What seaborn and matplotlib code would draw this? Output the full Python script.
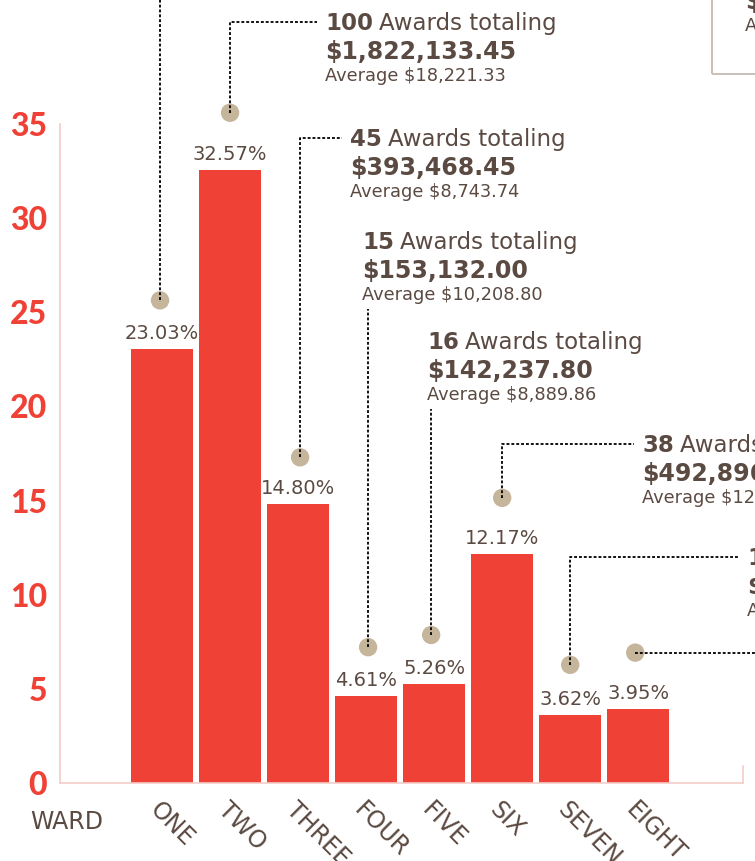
import matplotlib
matplotlib.use("Agg")
import matplotlib.pyplot as plt
import seaborn as sns
import pandas as pd
from matplotlib.transforms import ScaledTranslation, offset_copy
from matplotlib.patches import Rectangle
from matplotlib.lines import Line2D

# ---------------- data ----------------
wards = ["ONE", "TWO", "THREE", "FOUR", "FIVE", "SIX", "SEVEN", "EIGHT"]
share_pct = [23.03, 32.57, 14.80, 4.61, 5.26, 12.17, 3.62, 3.95]
award_counts = ["", "100", "45", "15", "16", "38", "11", ""]
award_totals = ["$1,315,240.10", "$1,822,133.45", "$393,468.45", "$153,132.00",
                "$142,237.80", "$492,896.00", "$103,950.00", ""]
award_avgs = ["$18,789.14", "$18,221.33", "$8,743.74", "$10,208.80",
              "$8,889.86", "$12,970.95", "$9,450.00", ""]
y_ticks = [0, 5, 10, 15, 20, 25, 30, 35]
axis_title = "WARD"

# ---------------- style / layout (pixels) ----------------
W, H = 755, 861
RED = "#ef4136"
BROWN = "#5b4a42"
TAN = "#c5b59b"
PINK = "#f5cdc8"
BOXC = "#c9bfb9"

dot_gap = [49, 57, 47, 49, 49, 56, 50, 56]
dot_dx = [-2, 0, 2, 2, -3, 0, 0, -3]
ann_x = [745, 325, 350, 362, 427, 642, 747, None]
ann_top = [-36, 14, 130, 233, 333, 436, 549, None]
leader = ["up_off", "elbow", "elbow", "up", "up", "elbow", "elbow", "right_off"]

sns.set_style("white")
plt.rcParams["font.family"] = ["DejaVu Sans"]

fig = plt.figure(figsize=(W / 100, H / 100), dpi=100)
ax = fig.add_axes([60 / W, (H - 783) / H, 683 / W, 659 / H])

df = pd.DataFrame({"ward": wards, "pct": share_pct})
sns.barplot(data=df, x="ward", y="pct", color=RED, saturation=1, width=0.91,
            edgecolor="none", linewidth=0, ax=ax, errorbar=None)

ax.set_xlim(-1.5, 8.54)
ax.set_ylim(0, 35)
ax.set_xlabel("")
ax.set_ylabel("")

ax.spines["top"].set_visible(False)
for s in ["left", "bottom", "right"]:
    ax.spines[s].set_color(PINK)
    ax.spines[s].set_linewidth(1.2)
ax.spines["right"].set_bounds(0, 17 / 18.83)

ax.set_yticks(y_ticks)
ax.set_yticklabels([str(t) for t in y_ticks])
ax.tick_params(axis="y", direction="in", length=12.2, width=1.2, color=PINK,
               pad=9.4, labelcolor=RED, labelsize=23)
for lab in ax.get_yticklabels():
    lab.set_fontfamily(["Lato", "DejaVu Sans"])
    lab.set_fontweight(900)

ax.set_xticks(range(len(wards)))
ax.set_xticklabels(wards, rotation=-45, ha="left", va="top", fontsize=17,
                   color=BROWN)
ax.tick_params(axis="x", length=0, pad=10.8)
for lab in ax.get_xticklabels():
    lab.set_transform(lab.get_transform() + ScaledTranslation(-17 / 100, 0, fig.dpi_scale_trans))

fig.text(30 / W, 1 - 829 / H, axis_title, fontsize=17, color=BROWN, va="baseline", ha="left")

# percentage labels
for i, v in enumerate(share_pct):
    ax.annotate(f"{v:.2f}%", (i, v), xytext=(0, 7.2), textcoords="offset points",
                ha="center", va="baseline", fontsize=14, color=BROWN)

# dots
dot_px = []
for i, v in enumerate(share_pct):
    tr = offset_copy(ax.transData, fig=fig, x=dot_dx[i], y=dot_gap[i], units="dots")
    ax.scatter([i], [v], s=175, color=TAN, edgecolor="none", transform=tr,
               clip_on=False, zorder=5)
    x, y = ax.transData.transform((i, v))
    dot_px.append((x + dot_dx[i], H - (y + dot_gap[i])))


def fline(xs, ys):
    fig.add_artist(Line2D([x / W for x in xs], [1 - y / H for y in ys],
                          transform=fig.transFigure, color="#000000", lw=1.3,
                          linestyle=(0, (1.6, 1.1)), zorder=1))


renderer = fig.canvas.get_renderer()


def block(x, top, count, total, avg):
    b1, b2, b3 = top + 16, top + 45, top + 67
    if count:
        t = fig.text(x / W, 1 - b1 / H, count, fontsize=16.5, fontweight="bold",
                     color=BROWN, va="baseline", ha="left")
        bb = t.get_window_extent(renderer)
        fig.text((bb.x1 + 6) / W, 1 - b1 / H, "Awards totaling", fontsize=16.5,
                 color=BROWN, va="baseline", ha="left")
    fig.text(x / W, 1 - b2 / H, total, fontsize=17, fontweight="bold",
             color=BROWN, va="baseline", ha="left")
    fig.text(x / W, 1 - b3 / H, "Average " + avg, fontsize=12.8,
             color=BROWN, va="baseline", ha="left")


for i in range(len(wards)):
    dx, dy = dot_px[i]
    kind = leader[i]
    if kind == "up_off":
        fline([dx, dx], [dy, -5])
    elif kind == "elbow":
        ly = ann_top[i] + 8
        fline([dx, dx, ann_x[i] - 8], [dy, ly, ly])
    elif kind == "up":
        fline([dx, dx], [dy, ann_top[i] + 76])
    elif kind == "right_off":
        fline([dx, W + 5], [dy, dy])
    if ann_x[i] is not None:
        block(ann_x[i], ann_top[i], award_counts[i], award_totals[i], award_avgs[i])

# box around the first ward's summary (top right)
fig.add_artist(Rectangle((712 / W, 1 - 74 / H), 120 / W, 100 / H,
                         transform=fig.transFigure, fill=False, ec=BOXC, lw=1.4))

fig.savefig("out.png", dpi=100)
